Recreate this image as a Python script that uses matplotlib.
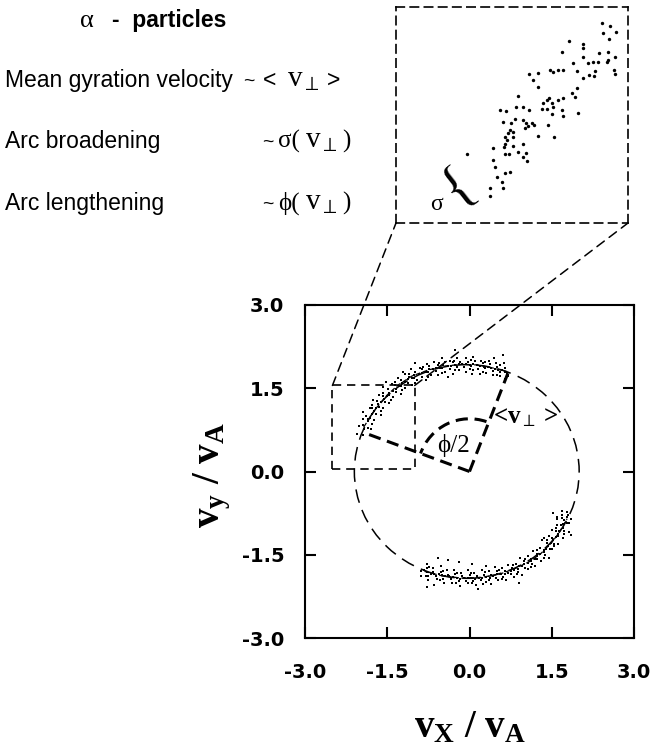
import matplotlib
matplotlib.use("Agg")
import matplotlib.pyplot as plt
from matplotlib.patches import Ellipse, Arc, Rectangle, ConnectionPatch

plt.rcParams["mathtext.fontset"] = "custom"
plt.rcParams["mathtext.rm"] = "Liberation Serif"
plt.rcParams["mathtext.it"] = "Liberation Serif:italic"
plt.rcParams["mathtext.bf"] = "Liberation Serif:bold"

W, H = 655, 747

# --- data (v_x / v_A, v_y / v_A) ---
top_arc_x = [
    -1.79, -1.86, -1.93, -1.94, -2.02, -1.75, -1.81, -1.86, -1.89, -1.94,
    -1.62, -1.71, -1.74, -1.77, -1.82, -1.58, -1.65, -1.67, -1.69, -1.76,
    -1.46, -1.55, -1.56, -1.57, -1.65, -1.39, -1.47, -1.47, -1.48, -1.57,
    -1.25, -1.34, -1.34, -1.36, -1.41, -1.18, -1.25, -1.24, -1.25, -1.31,
    -1.05, -1.12, -1.12, -1.11, -1.18, -0.95, -1.01, -1.01, -1.00, -1.07,
    -0.80, -0.87, -0.86, -0.86, -0.91, -0.70, -0.76, -0.74, -0.73, -0.78,
    -0.57, -0.62, -0.61, -0.58, -0.64, -0.45, -0.50, -0.48, -0.45, -0.51,
    -0.31, -0.36, -0.34, -0.31, -0.35, -0.19, -0.23, -0.20, -0.17, -0.22,
    -0.06, -0.10, -0.07, -0.03, -0.07, 0.06, 0.03, 0.07, 0.10, 0.07,
    0.19, 0.16, 0.20, 0.24, 0.21, 0.31, 0.29, 0.33, 0.38, 0.35,
    0.43, 0.42, 0.46, 0.51, 0.49, 0.56, 0.55, 0.59, 0.64, 0.63,
    0.64, 0.70, 0.68,
    -1.86, -1.78, -1.70, -1.61, -1.51, -1.40, -1.29, -1.18, -1.05, -0.93,
    -0.80, -0.67, -0.54, -0.40, -0.27, -0.14, 0.00, 0.13, 0.27, 0.40,
    0.52, 0.65,
    -1.77, -1.94, -1.62, -1.77, -1.43, -1.58, -1.23, -1.35, -1.00, -1.10,
    -0.76, -0.84, -0.51, -0.56, -0.26, -0.28, 0.00, 0.02, 0.25, 0.28,
    0.50, 0.55,
    -0.26, 0.61, -2.05, -1.00, -1.52, -0.40, 0.45, -1.95, -1.22, 0.05,
]
top_arc_y = [
    0.76, 0.79, 0.76, 0.83, 0.82, 0.93, 0.96, 0.95, 1.00, 1.08,
    1.01, 1.03, 1.09, 1.15, 1.14, 1.15, 1.16, 1.21, 1.27, 1.28,
    1.23, 1.25, 1.31, 1.36, 1.38, 1.35, 1.37, 1.42, 1.48, 1.52,
    1.39, 1.43, 1.49, 1.56, 1.57, 1.51, 1.54, 1.59, 1.65, 1.68,
    1.55, 1.60, 1.66, 1.71, 1.75, 1.65, 1.69, 1.74, 1.80, 1.85,
    1.65, 1.71, 1.77, 1.84, 1.86, 1.73, 1.79, 1.84, 1.90, 1.94,
    1.74, 1.81, 1.86, 1.91, 1.97, 1.80, 1.86, 1.91, 1.97, 2.04,
    1.76, 1.85, 1.90, 1.97, 2.00, 1.82, 1.89, 1.93, 1.98, 2.04,
    1.80, 1.88, 1.93, 1.97, 2.04, 1.83, 1.90, 1.94, 1.99, 2.07,
    1.76, 1.85, 1.90, 1.96, 2.00, 1.78, 1.86, 1.89, 1.93, 2.00,
    1.73, 1.81, 1.85, 1.88, 1.96, 1.72, 1.80, 1.83, 1.86, 1.95,
    1.66, 1.72, 1.78,
    0.91, 1.03, 1.15, 1.26, 1.36, 1.45, 1.54, 1.62, 1.69, 1.75,
    1.80, 1.84, 1.87, 1.90, 1.91, 1.93, 1.92, 1.92, 1.89, 1.87,
    1.83, 1.79,
    0.86, 0.95, 1.09, 1.20, 1.29, 1.42, 1.46, 1.61, 1.60, 1.76,
    1.71, 1.88, 1.78, 1.96, 1.82, 2.00, 1.84, 2.01, 1.80, 1.98,
    1.74, 1.91,
    2.19, 2.10, 0.68, 1.95, 1.62, 1.70, 2.05, 0.66, 1.80, 1.75,
]

bottom_arc_x = [
    -0.77, -0.78, -0.83, -0.88, -0.88, -0.67, -0.66, -0.71, -0.75, -0.75,
    -0.52, -0.52, -0.56, -0.61, -0.59, -0.41, -0.40, -0.44, -0.48, -0.46,
    -0.28, -0.26, -0.30, -0.34, -0.32, -0.16, -0.14, -0.17, -0.20, -0.18,
    -0.03, 0.00, -0.03, -0.06, -0.03, 0.09, 0.13, 0.10, 0.07, 0.11,
    0.22, 0.26, 0.23, 0.21, 0.25, 0.35, 0.39, 0.37, 0.35, 0.40,
    0.46, 0.51, 0.50, 0.48, 0.52, 0.60, 0.65, 0.64, 0.62, 0.67,
    0.71, 0.77, 0.76, 0.75, 0.81, 0.84, 0.90, 0.89, 0.89, 0.95,
    0.93, 1.00, 1.00, 1.01, 1.06, 1.07, 1.13, 1.13, 1.14, 1.19,
    1.16, 1.23, 1.24, 1.24, 1.31, 1.28, 1.35, 1.36, 1.37, 1.45,
    1.33, 1.42, 1.43, 1.46, 1.51, 1.45, 1.51, 1.53, 1.55, 1.62,
    1.50, 1.58, 1.61, 1.62, 1.70, 1.60, 1.67, 1.70, 1.73, 1.81,
    1.60, 1.69, 1.73, 1.77, 1.82, 1.69, 1.77, 1.80,
    -0.77, -0.64, -0.50, -0.37, -0.23, -0.10, 0.03, 0.17, 0.30, 0.43,
    0.57, 0.70, 0.82, 0.95, 1.07, 1.19, 1.29, 1.39, 1.48, 1.57,
    1.64, 1.71, 1.77,
    -0.73, -0.80, -0.48, -0.53, -0.22, -0.25, 0.03, 0.04, 0.29, 0.31,
    0.54, 0.59, 0.79, 0.86, 1.02, 1.12, 1.23, 1.35, 1.41, 1.55,
    1.57, 1.72, 1.69, 1.85,
    -0.78, 0.16, 1.52, -0.57, -0.40, -0.20, 0.05, -0.65, 0.30, 1.35,
    1.85, 0.90, 1.60,
]
bottom_arc_y = [
    -1.66, -1.74, -1.78, -1.80, -1.88, -1.74, -1.81, -1.84, -1.88, -1.96,
    -1.71, -1.81, -1.85, -1.89, -1.94, -1.78, -1.86, -1.89, -1.93, -2.00,
    -1.77, -1.85, -1.90, -1.93, -2.01, -1.82, -1.89, -1.93, -1.98, -2.06,
    -1.77, -1.86, -1.91, -1.97, -2.01, -1.82, -1.89, -1.93, -1.98, -2.04,
    -1.78, -1.86, -1.91, -1.95, -2.02, -1.80, -1.86, -1.91, -1.96, -2.03,
    -1.72, -1.80, -1.85, -1.92, -1.95, -1.74, -1.80, -1.84, -1.90, -1.95,
    -1.68, -1.74, -1.80, -1.85, -1.90, -1.66, -1.71, -1.76, -1.81, -1.87,
    -1.55, -1.61, -1.67, -1.74, -1.76, -1.52, -1.57, -1.61, -1.67, -1.70,
    -1.43, -1.48, -1.53, -1.58, -1.62, -1.37, -1.41, -1.45, -1.51, -1.55,
    -1.24, -1.28, -1.34, -1.39, -1.40, -1.17, -1.19, -1.24, -1.30, -1.31,
    -1.05, -1.07, -1.12, -1.17, -1.19, -0.96, -0.97, -1.02, -1.07, -1.09,
    -0.82, -0.83, -0.88, -0.93, -0.93, -0.72, -0.73, -0.78,
    -1.81, -1.84, -1.87, -1.89, -1.91, -1.92, -1.92, -1.91, -1.90, -1.88,
    -1.85, -1.82, -1.77, -1.71, -1.64, -1.57, -1.49, -1.39, -1.29, -1.18,
    -1.07, -0.95, -0.82,
    -1.72, -1.89, -1.79, -1.96, -1.82, -2.00, -1.83, -2.01, -1.81, -1.99,
    -1.77, -1.94, -1.69, -1.85, -1.57, -1.72, -1.42, -1.56, -1.23, -1.34,
    -1.02, -1.12, -0.79, -0.86,
    -2.08, -2.12, -0.75, -1.55, -1.60, -1.63, -1.66, -2.05, -1.70, -1.20,
    -1.15, -2.00, -0.85,
]

# dense centre streaks of the two arcs
top_track_x = [-1.93, -1.72, -1.50, -1.30, -1.05, -0.75, -0.45, -0.15, 0.15, 0.45, 0.68]
top_track_y = [0.80, 1.12, 1.38, 1.56, 1.72, 1.83, 1.90, 1.93, 1.92, 1.86, 1.80]
bottom_track_x = [-0.82, -0.50, -0.15, 0.20, 0.55, 0.85, 1.10, 1.30, 1.50, 1.65, 1.78]
bottom_track_y = [-1.80, -1.88, -1.92, -1.91, -1.85, -1.74, -1.62, -1.48, -1.28, -1.08, -0.85]

# magnified view (percent of the zoom box)
zoom_x = [
    88.6, 92.2, 94.8, 89.1, 91.9, 80.7, 80.4, 74.6, 71.4, 87.6,
    91.5, 94.4, 91.5, 80.7, 82.9, 85.0, 87.2, 90.8, 76.1, 72.1,
    70.0, 66.4, 67.8, 61.3, 57.5, 59.2, 61.3, 77.9, 85.8, 83.3,
    85.3, 80.7, 94.0, 94.4, 77.9, 75.7, 77.1, 72.1, 70.0, 66.1,
    64.9, 63.5, 67.1, 62.8, 64.9, 67.8, 71.4, 72.1, 67.4, 78.6,
    52.7, 51.7, 54.6, 57.5, 44.8, 47.4, 46.3, 49.4, 51.3, 54.9,
    56.0, 58.5, 59.5, 57.0, 55.6, 49.1, 48.4, 50.6, 47.0, 47.7,
    50.6, 47.0, 50.3, 46.7, 54.9, 52.7, 56.0, 54.9, 56.3, 48.8,
    47.0, 41.9, 41.7, 42.7, 47.0, 49.1, 43.4, 45.5, 46.3, 40.5,
    40.5, 61.3, 65.6, 68.1, 30.4,
]
zoom_y = [
    92.7, 91.2, 88.5, 88.1, 85.3, 82.8, 80.8, 84.4, 79.3, 78.8,
    79.3, 76.7, 75.4, 77.0, 74.2, 74.6, 74.6, 74.6, 74.2, 70.8,
    70.8, 70.8, 70.0, 69.6, 68.9, 66.2, 62.8, 70.5, 70.5, 68.5,
    68.0, 66.9, 70.8, 68.9, 62.3, 60.0, 58.4, 57.7, 56.9, 58.1,
    56.9, 55.7, 55.4, 53.0, 53.0, 53.8, 52.3, 49.5, 50.4, 51.0,
    58.9, 53.8, 53.8, 52.3, 52.3, 52.0, 46.9, 46.1, 48.0, 47.7,
    46.4, 46.4, 45.3, 44.9, 43.8, 43.0, 41.5, 41.9, 39.9, 38.4,
    39.9, 36.5, 35.6, 35.3, 36.5, 33.0, 32.2, 30.7, 28.8, 31.9,
    31.9, 34.5, 29.1, 26.0, 23.3, 23.4, 21.4, 19.1, 16.0, 16.3,
    12.5, 40.2, 45.3, 39.6, 31.9,
]

ticks = [-3.0, -1.5, 0.0, 1.5, 3.0]
tick_labels = ["-3.0", "-1.5", "0.0", "1.5", "3.0"]

zoom_box = (-2.5, 0.05, 1.5, 1.5)      # x0, y0, width, height
v_perp_end = (0.70, 1.77)
phi_end = (-1.87, 0.68)


def fx(px):
    return px / W


def fy(py):
    return 1 - py / H


fig = plt.figure(figsize=(W / 100, H / 100), dpi=100)

# --- main panel ---
ax = fig.add_axes([fx(305), fy(638), 329 / W, 333 / H])
ax.set_xlim(-3, 3)
ax.set_ylim(-3, 3)
ax.set_xticks(ticks, labels=tick_labels)
ax.set_yticks(ticks, labels=tick_labels)
ax.tick_params(direction="in", length=8, width=1.5, top=True, right=True)
ax.tick_params(axis="x", pad=18)
ax.tick_params(axis="y", pad=15)
for lab in ax.get_xticklabels() + ax.get_yticklabels():
    lab.set_fontfamily("DejaVu Sans")
    lab.set_fontweight("bold")
    lab.set_fontsize(14)
for sp in ax.spines.values():
    sp.set_linewidth(1.5)

ax.add_patch(Ellipse((-0.05, 0.0), 4.1, 3.85, fill=False, lw=1.1,
                     ls=(0, (9, 5)), color="black", zorder=1))
ax.scatter(top_arc_x, top_arc_y, s=3.5, c="black", marker="s", linewidths=0, zorder=3)
ax.scatter(bottom_arc_x, bottom_arc_y, s=3.5, c="black", marker="s", linewidths=0, zorder=3)
ax.plot(top_track_x, top_track_y, color="black", lw=0.9, ls=(0, (4, 2)), zorder=3)
ax.plot(bottom_track_x, bottom_track_y, color="black", lw=0.9, ls=(0, (4, 2)), zorder=3)

ax.plot([0, v_perp_end[0]], [0, v_perp_end[1]], color="black", lw=2.2, ls=(0, (4, 2.2)))
ax.plot([0, phi_end[0]], [0, phi_end[1]], color="black", lw=2.2, ls=(0, (4, 2.2)))
ax.add_patch(Arc((0, 0), 1.9, 1.9, theta1=71, theta2=160, lw=2.2,
                 ls=(0, (4, 2.2)), color="black"))
ax.text(-0.30, 0.46, "ϕ/2", fontsize=18, family=["Liberation Serif", "DejaVu Serif"],
        ha="center", va="center")
ax.text(1.03, 0.97, r"<$\mathbf{v}_{\perp}$ >", fontsize=18, family="Liberation Serif",
        fontweight="bold", ha="center", va="center")

x0, y0, bw, bh = zoom_box
ax.add_patch(Rectangle((x0, y0), bw, bh, fill=False, lw=1.2, ls=(0, (5, 3.5)),
                       color="black", zorder=4))

ax.set_xlabel(r"$\mathbf{v_X}$ / $\mathbf{v_A}$", fontsize=28,
              family="Liberation Serif", fontweight="bold")
ax.set_ylabel(r"$\mathbf{v_y}$ / $\mathbf{v_A}$", fontsize=28,
              family="Liberation Serif", fontweight="bold")
ax.xaxis.set_label_coords(0.5, -0.215)
ax.yaxis.set_label_coords(-0.22, 0.49)

# --- magnified inset ---
ins = fig.add_axes([fx(396), fy(223), 232 / W, 216 / H])
ins.set_xlim(0, 100)
ins.set_ylim(0, 100)
ins.set_xticks([])
ins.set_yticks([])
for sp in ins.spines.values():
    sp.set_linestyle((0, (5, 3.5)))
    sp.set_linewidth(1.2)
ins.scatter(zoom_x, zoom_y, s=6, c="black", linewidths=0)
ins.text(27.5, 16.5, "{", fontsize=40, family="Liberation Serif", rotation=38,
         ha="center", va="center")
ins.text(17.5, 8.5, "σ", fontsize=17, family="Liberation Serif", ha="center", va="center")

for xyA, xyB in [((x0, y0 + bh), (0, 0)), ((x0 + bw, y0 + bh), (1, 0))]:
    con = ConnectionPatch(xyA=xyA, coordsA=ax.transData, xyB=xyB, coordsB=ins.transAxes,
                          lw=1.1, ls=(0, (6, 4)), color="black")
    fig.add_artist(con)

# --- legend text at top left ---
sans = "Liberation Sans"
serif = ["Liberation Serif", "DejaVu Serif"]
fs = 16.5
fig.text(fx(80), fy(27), "α", fontsize=19, family=serif)
fig.text(fx(112), fy(27), "-  particles", fontsize=fs, family=sans, fontweight="bold")

vperp = r"$\mathrm{v}_{\perp}$"
rows = [
    (87, "Mean gyration velocity", 243, ("<", 263, sans, fs), 287, (">", 327, sans, fs)),
    (148, "Arc broadening", 262, ("σ(", 278, serif, 18), 305, (")", 342, serif, 18)),
    (210, "Arc lengthening", 262, ("ϕ(", 278, serif, 18), 305, (")", 342, serif, 18)),
]
for base, label, tilde_x, before, v_x, after in rows:
    fig.text(fx(5), fy(base), label, fontsize=fs, family=sans)
    fig.text(fx(tilde_x), fy(base - 1), "~", fontsize=14, family=sans)
    for txt, px, fam, size in (before, after):
        fig.text(fx(px), fy(base), txt, fontsize=size, family=fam)
    fig.text(fx(v_x), fy(base), vperp, fontsize=21)

fig.savefig("out.png", dpi=100)
